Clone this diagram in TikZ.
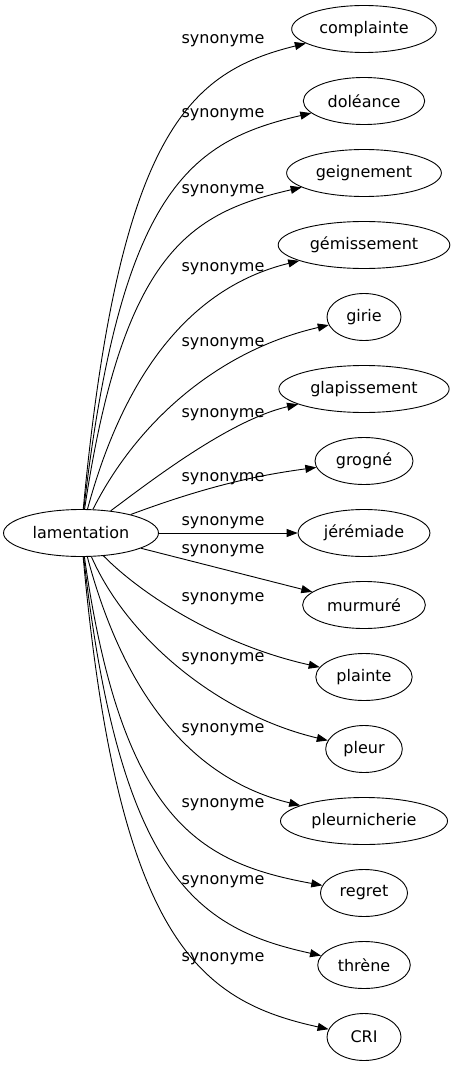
\documentclass[tikz,border=0pt]{standalone}
\usepackage{fontspec}
\setmainfont{DejaVu Sans}
\usetikzlibrary{shapes.geometric, arrows.meta}
\usetikzlibrary{positioning}
\tikzstyle{word} = [ellipse, draw=black, line width=0.9pt, minimum width=74pt, minimum height=47pt, inner xsep=6.5pt, inner ysep=2pt, text centered, font=\fontsize{16}{19}\selectfont]
\tikzstyle{edgetext} = [anchor=base, inner sep=0pt, font=\fontsize{16}{19}\selectfont]
\tikzstyle{arrow} = [line width=0.9pt, -{Triangle[length=11pt,width=8pt]}]

\begin{document}
\begin{tikzpicture}[x=1pt, y=-1pt, node distance=72pt]
 \useasboundingbox (0,0) rectangle (452,1067);

 \node (lam) [word] at (81,533) {lamentation};

 \node (complainte) [word] at (364,29) {complainte};
 \node (doleance) [word, below of=complainte] {doléance};
 \node (geignement) [word, below of=doleance] {geignement};
 \node (gemissement) [word, below of=geignement] {gémissement};
 \node (girie) [word, below of=gemissement] {girie};
 \node (glapissement) [word, below of=girie] {glapissement};
 \node (grogne) [word, below of=glapissement] {grogné};
 \node (jeremiade) [word, below of=grogne] {jérémiade};
 \node (murmure) [word, below of=jeremiade] {murmuré};
 \node (plainte) [word, below of=murmure] {plainte};
 \node (pleur) [word, below of=plainte] {pleur};
 \node (pleurnicherie) [word, below of=pleur] {pleurnicherie};
 \node (regret) [word, below of=pleurnicherie] {regret};
 \node (threne) [word, below of=regret] {thrène};
 \node (cri) [word, below of=threne] {CRI};

 \node (s-complainte) [edgetext] at (223,44) {synonyme};
 \node (s-doleance) [edgetext] at (223,118) {synonyme};
 \node (s-geignement) [edgetext] at (223,194) {synonyme};
 \node (s-gemissement) [edgetext] at (223,271) {synonyme};
 \node (s-girie) [edgetext] at (223,346) {synonyme};
 \node (s-glapissement) [edgetext] at (223,417) {synonyme};
 \node (s-grogne) [edgetext] at (223,481) {synonyme};
 \node (s-jeremiade) [edgetext] at (223,525) {synonyme};
 \node (s-murmure) [edgetext] at (223,553) {synonyme};
 \node (s-plainte) [edgetext] at (223,601) {synonyme};
 \node (s-pleur) [edgetext] at (223,661) {synonyme};
 \node (s-pleurnicherie) [edgetext] at (223,732) {synonyme};
 \node (s-regret) [edgetext] at (223,807) {synonyme};
 \node (s-threne) [edgetext] at (223,884) {synonyme};
 \node (s-cri) [edgetext] at (223,961) {synonyme};

 \draw [arrow] (lam) .. controls (119,130) and (190,72) .. (complainte);
 \draw [arrow] (lam) .. controls (121,190) and (190,141) .. (doleance);
 \draw [arrow] (lam) .. controls (123,252) and (190,213) .. (geignement);
 \draw [arrow] (lam) .. controls (128,360) and (200,285) .. (gemissement);
 \draw [arrow] (lam) .. controls (138,420) and (220,350) .. (girie);
 \draw [arrow] (lam) .. controls (152,480) and (230,420) .. (glapissement);
 \draw [arrow] (lam) .. controls (210,485) and (260,475) .. (grogne);
 \draw [arrow] (lam) -- (jeremiade);
 \draw [arrow] (lam) -- (murmure);
 \draw [arrow] (lam) .. controls (142,595) and (220,645) .. (plainte);
 \draw [arrow] (lam) .. controls (128,640) and (220,715) .. (pleur);
 \draw [arrow] (lam) .. controls (127,706) and (200,781) .. (pleurnicherie);
 \draw [arrow] (lam) .. controls (122,822) and (200,863) .. (regret);
 \draw [arrow] (lam) .. controls (120,880) and (200,929) .. (threne);
 \draw [arrow] (lam) .. controls (118,942) and (200,1001) .. (cri);
\end{tikzpicture}
\end{document}
